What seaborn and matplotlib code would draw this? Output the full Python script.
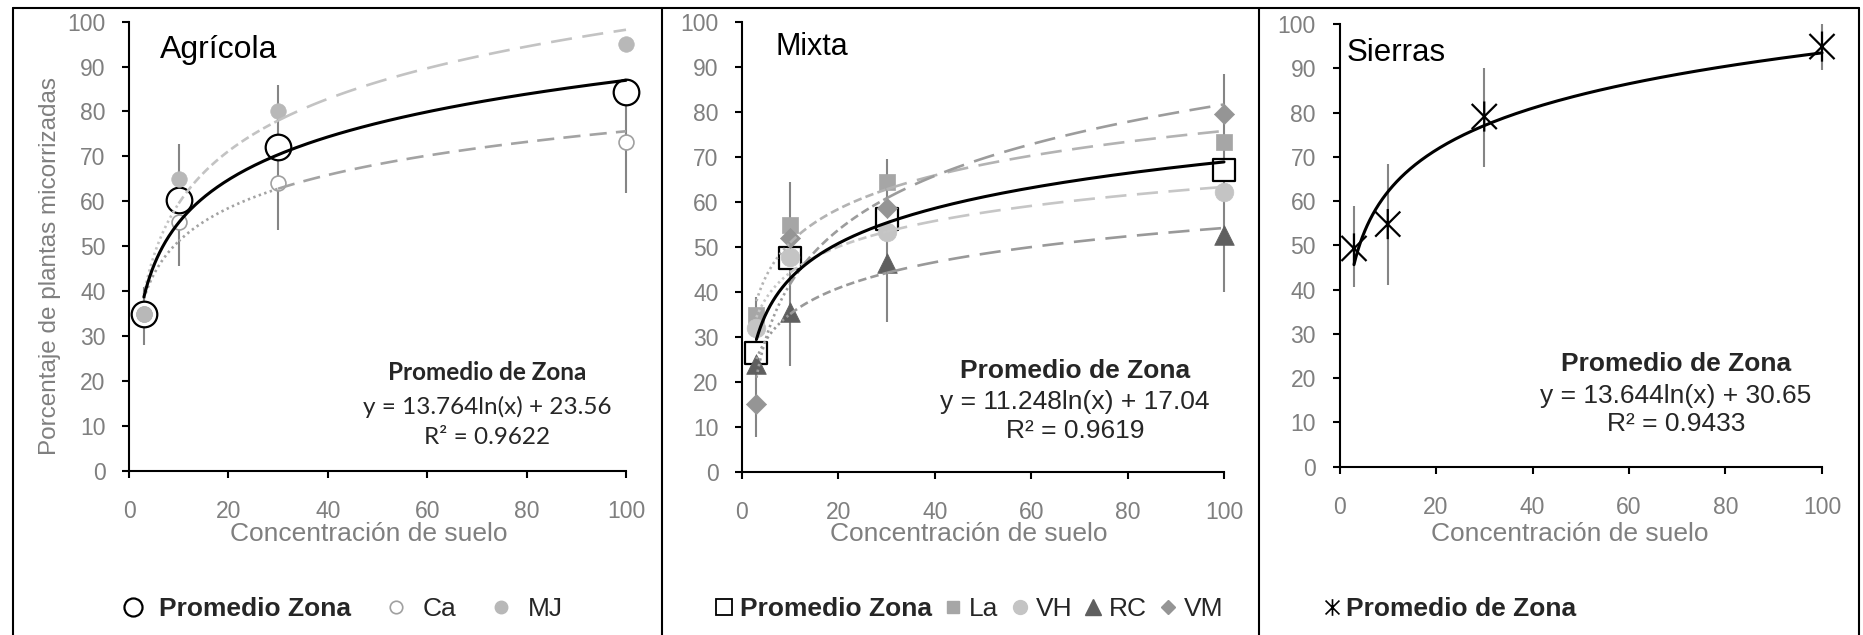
import numpy as np
import pandas as pd
import matplotlib
matplotlib.use("Agg")
import matplotlib.pyplot as plt
from matplotlib.lines import Line2D
from matplotlib.path import Path
import seaborn as sns

# ---------------- data ----------------
conc = [3, 10, 30, 100]

# Agrícola
agr_prom = [35.0, 60.3, 72.0, 84.3]
agr_ca = [35.0, 55.5, 64.0, 73.3]
agr_mj = [35.0, 65.0, 80.0, 95.0]
agr_err_lo = [28.0, 45.7, 53.5, 61.8]
agr_err_hi = [41.0, 72.8, 85.9, 84.3]
agr_eq = (13.764, 23.56)
agr_text = ["Promedio de Zona", "y = 13.764ln(x) + 23.56", "R² = 0.9622"]

# Mixta
mix_prom = [26.3, 47.4, 56.1, 67.0]
mix_la = [34.8, 54.8, 64.4, 73.3]
mix_vh = [32.0, 47.8, 53.3, 62.1]
mix_rc = [24.0, 35.5, 46.3, 52.6]
mix_vm = [15.0, 51.9, 58.5, 79.6]
mix_err_lo = [7.8, 23.6, 33.2, 40.0]
mix_err_hi = [38.9, 64.4, 69.6, 88.4]
mix_eq = (11.248, 17.04)
mix_text = ["Promedio de Zona", "y = 11.248ln(x) + 17.04", "R² = 0.9619"]

# Sierras
sie_prom = [49.3, 54.8, 79.1, 94.9]
sie_err_lo = [40.5, 41.0, 67.8, 89.6]
sie_err_hi = [59.0, 68.4, 90.1, 100.0]
sie_eq = (13.644, 30.65)
sie_text = ["Promedio de Zona", "y = 13.644ln(x) + 30.65", "R² = 0.9433"]

zone_names = ["Agrícola", "Mixta", "Sierras"]
xlabel = "Concentración de suelo"
ylabel = "Porcentaje de plantas micorrizadas"
xticks = [0, 20, 40, 60, 80, 100]
yticks = [0, 10, 20, 30, 40, 50, 60, 70, 80, 90, 100]

# ---------------- style ----------------
sns.set_theme(style="white")
plt.rcParams["font.family"] = ["Liberation Sans", "DejaVu Sans"]

W, H = 1863, 635
fig = plt.figure(figsize=(W / 100, H / 100), dpi=100)
fig.patch.set_facecolor("white")


def fx(p):
    return p / W


def fy(p):
    return 1 - p / H


def add_axes(left, right, top, bottom):
    return fig.add_axes([fx(left), fy(bottom), (right - left) / W, (bottom - top) / H])


GRAY_TXT = "#7f7f7f"
ERR_C = "#858585"

star_path = Path(
    [(-1, -1), (1, 1), (-1, 1), (1, -1), (0, -1.2), (0, 1.2)],
    [Path.MOVETO, Path.LINETO, Path.MOVETO, Path.LINETO, Path.MOVETO, Path.LINETO],
)

SEG_STYLES = [(0, (0.9, 1.3)), (0, (3.2, 1.6)), (0, (8.0, 4.0))]


def trend_segments(ax, x, coef, color, lw=1.9, styles=SEG_STYLES, z=5):
    x = np.asarray(x, float)
    for i in range(len(x) - 1):
        xs = np.geomspace(x[i], x[i + 1], 60)
        ys = coef[0] * np.log(xs) + coef[1]
        ls = styles[min(i, len(styles) - 1)]
        sns.lineplot(x=xs, y=ys, ax=ax, color=color, linewidth=lw, linestyle=ls,
                     estimator=None, sort=False, zorder=z, clip_on=False)


def fit(x, y):
    a, b = np.polyfit(np.log(np.asarray(x, float)), np.asarray(y, float), 1)
    return (a, b)


def main_curve(ax, x, coef):
    xs = np.geomspace(min(x), max(x), 200)
    ys = coef[0] * np.log(xs) + coef[1]
    sns.lineplot(x=xs, y=ys, ax=ax, color="black", linewidth=2.2,
                 estimator=None, sort=False, zorder=6, clip_on=False)


def style_axes(ax):
    ax.set_xlim(0, 100)
    ax.set_ylim(0, 100)
    ax.set_xticks(xticks)
    ax.set_yticks(yticks)
    for s in ["top", "right"]:
        ax.spines[s].set_visible(False)
    for s in ["left", "bottom"]:
        ax.spines[s].set_color("black")
        ax.spines[s].set_linewidth(1.5)
    ax.spines["left"].set_zorder(10)
    ax.spines["bottom"].set_zorder(10)
    ax.tick_params(axis="both", direction="out", length=5, width=1.5, color="black",
                   labelcolor=GRAY_TXT, labelsize=16.5, left=True, bottom=True)
    ax.tick_params(axis="y", pad=12)
    ax.tick_params(axis="x", pad=16)
    ax.set_facecolor("none")
    ax.grid(False)
    ax.set_xlabel("")
    ax.set_ylabel("")


def err(ax, x, lo, hi):
    ax.vlines(x, lo, hi, color=ERR_C, linewidth=1.5, zorder=1, clip_on=False)


def pts(ax, y, marker, s, face, edge, lw, z=3):
    sns.scatterplot(x=conc, y=y, ax=ax, marker=marker, s=s, color=face,
                    edgecolor=edge, linewidth=lw, zorder=z, clip_on=False)


# ---------------- panel 1: Agrícola ----------------
ax1 = add_axes(129, 626, 21.7, 470.7)
err(ax1, conc, agr_err_lo, agr_err_hi)
pts(ax1, agr_prom, "o", 340, "white", "black", 1.6, z=2)
pts(ax1, agr_ca, "o", 115, "white", "#a0a0a0", 1.2)
pts(ax1, agr_mj, "o", 125, "#b8b8b8", "#b8b8b8", 0.5)
trend_segments(ax1, conc, fit(conc, agr_ca), "#a3a3a3",
               styles=[(0, (0.9, 1.3)), (0, (0.9, 1.3)), (0, (6.5, 3.5))])
trend_segments(ax1, conc, fit(conc, agr_mj), "#c3c3c3")
main_curve(ax1, conc, agr_eq)
style_axes(ax1)
ax1.set_xlabel(xlabel, fontsize=19, color=GRAY_TXT, va="center")
ax1.xaxis.set_label_coords((369 - 129) / 497, -(534 - 470.7) / 449)
ax1.set_ylabel(ylabel, fontsize=17.5, color=GRAY_TXT, va="center")
ax1.yaxis.set_label_coords((50 - 129) / 497, (470.7 - 266) / 449)

# ---------------- panel 2: Mixta ----------------
ax2 = add_axes(742, 1224, 21.7, 471.7)
err(ax2, conc, mix_err_lo, mix_err_hi)
pts(ax2, mix_prom, "s", 270, "white", "black", 1.6, z=2)
pts(ax2, mix_la, "s", 120, "#a6a6a6", "#a6a6a6", 0.5)
pts(ax2, mix_vh, "o", 180, "#c4c4c4", "#c4c4c4", 0.5)
pts(ax2, mix_rc, "^", 200, "#5f5f5f", "#5f5f5f", 0.5)
pts(ax2, mix_vm, "D", 105, "#959595", "#959595", 0.5)
trend_segments(ax2, conc, fit(conc, mix_la), "#b3b3b3")
trend_segments(ax2, conc, fit(conc, mix_vh), "#c6c6c6")
trend_segments(ax2, conc, fit(conc, mix_rc), "#999999")
trend_segments(ax2, conc, fit(conc, mix_vm), "#9c9c9c")
main_curve(ax2, conc, mix_eq)
style_axes(ax2)
ax2.set_xlabel(xlabel, fontsize=19, color=GRAY_TXT, va="center")
ax2.xaxis.set_label_coords((969 - 742) / 482, -(534 - 471.7) / 450)

# ---------------- panel 3: Sierras ----------------
ax3 = add_axes(1339.5, 1822, 24, 466.7)
err(ax3, conc, sie_err_lo, sie_err_hi)
pts(ax3, sie_prom, star_path, 470, "none", "black", 1.6)
main_curve(ax3, conc, sie_eq)
style_axes(ax3)
ax3.set_xlabel(xlabel, fontsize=19, color=GRAY_TXT, va="center")
ax3.xaxis.set_label_coords((1570 - 1339.5) / 482.5, -(534 - 466.7) / 442.7)

# ---------------- zone names ----------------
fig.text(fx(160), fy(58), zone_names[0], fontsize=23, color="black", ha="left", va="baseline")
fig.text(fx(776), fy(55), zone_names[1], fontsize=22, color="black", ha="left", va="baseline")
fig.text(fx(1347), fy(61), zone_names[2], fontsize=22.5, color="black", ha="left", va="baseline")

# ---------------- equations ----------------
def eq_block(cx, ys, lines, family, size):
    fig.text(fx(cx), fy(ys[0]), lines[0], fontsize=size, fontweight="bold",
             family=family, ha="center", va="center")
    fig.text(fx(cx), fy(ys[1]), lines[1], fontsize=size, family=family, ha="center", va="center")
    fig.text(fx(cx), fy(ys[2]), lines[2], fontsize=size, family=family, ha="center", va="center")


eq_block(487, [373, 407, 438], agr_text, ["Lato", "DejaVu Sans"], 17.5)
eq_block(1075, [371, 402, 431], mix_text, ["Liberation Sans", "DejaVu Sans"], 19)
eq_block(1676, [364, 396, 424], sie_text, ["Liberation Sans", "DejaVu Sans"], 19)

# ---------------- legends ----------------
h1 = [
    Line2D([], [], linestyle="none", marker="o", markersize=13, markerfacecolor="white",
           markeredgecolor="black", markeredgewidth=1.6),
    Line2D([], [], linestyle="none", marker="o", markersize=9, markerfacecolor="white",
           markeredgecolor="#a0a0a0", markeredgewidth=1.2),
    Line2D([], [], linestyle="none", marker="o", markersize=9, markerfacecolor="#b8b8b8",
           markeredgecolor="#b8b8b8"),
]
leg1 = fig.legend(h1, ["Promedio Zona", "Ca", "MJ"], loc="center",
                  bbox_to_anchor=(fx(341), fy(609)), ncol=3, frameon=False, fontsize=19,
                  handlelength=1.0, handletextpad=0.5, columnspacing=1.2)
leg1.get_texts()[0].set_fontweight("bold")

h2 = [
    Line2D([], [], linestyle="none", marker="s", markersize=11, markerfacecolor="white",
           markeredgecolor="black", markeredgewidth=1.3),
    Line2D([], [], linestyle="none", marker="s", markersize=9, markerfacecolor="#a6a6a6",
           markeredgecolor="#a6a6a6"),
    Line2D([], [], linestyle="none", marker="o", markersize=10, markerfacecolor="#c4c4c4",
           markeredgecolor="#c4c4c4"),
    Line2D([], [], linestyle="none", marker="^", markersize=11, markerfacecolor="#5f5f5f",
           markeredgecolor="#5f5f5f"),
    Line2D([], [], linestyle="none", marker="D", markersize=7.5, markerfacecolor="#959595",
           markeredgecolor="#959595"),
]
leg2 = fig.legend(h2, ["Promedio Zona", "La", "VH", "RC", "VM"], loc="center",
                  bbox_to_anchor=(fx(970), fy(609)), ncol=5, frameon=False, fontsize=19,
                  handlelength=0.6, handletextpad=0.3, columnspacing=0.5)
leg2.get_texts()[0].set_fontweight("bold")

h3 = [
    Line2D([], [], linestyle="none", marker=star_path, markersize=12, markerfacecolor="none",
           markeredgecolor="black", markeredgewidth=1.2),
]
leg3 = fig.legend(h3, ["Promedio de Zona"], loc="center left",
                  bbox_to_anchor=(fx(1324), fy(609)), ncol=1, frameon=False, fontsize=19,
                  handlelength=0.6, handletextpad=0.25, borderpad=0, borderaxespad=0)
leg3.get_texts()[0].set_fontweight("bold")

# ---------------- panel borders ----------------
for (x0, y0, x1, y1) in [(13, 8, 1859, 8), (13, 8, 13, 640), (662, 8, 662, 640),
                         (1258.5, 8, 1258.5, 640), (1859, 8, 1859, 640)]:
    fig.add_artist(Line2D([fx(x0), fx(x1)], [fy(y0), fy(y1)], transform=fig.transFigure,
                          color="black", linewidth=1.5))

fig.savefig("out.png", dpi=100, facecolor="white")
